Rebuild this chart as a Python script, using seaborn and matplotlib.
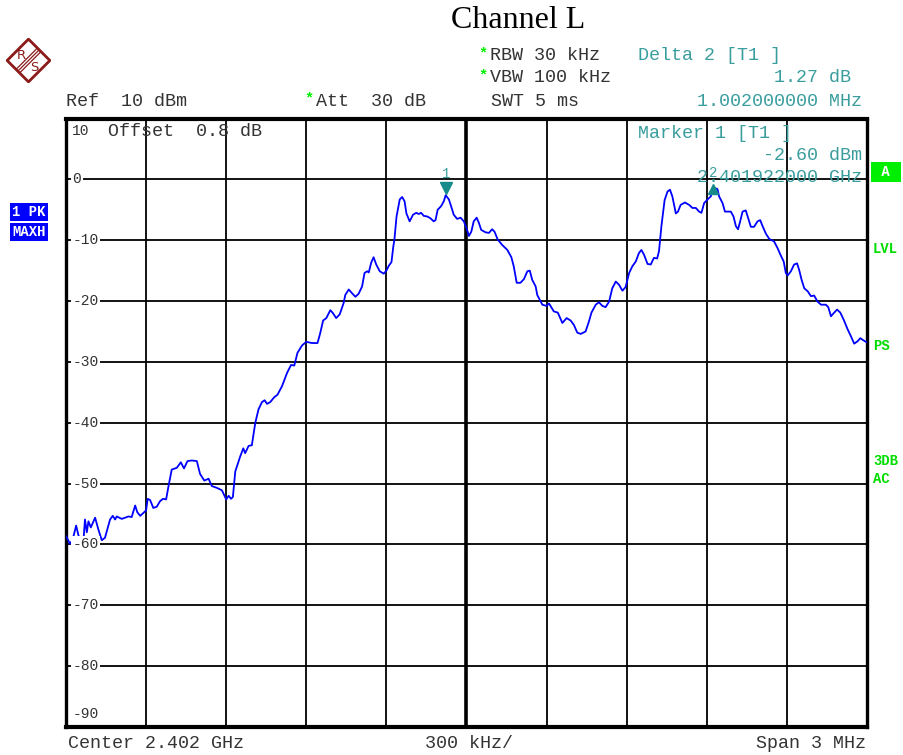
import matplotlib
matplotlib.use("Agg")
import numpy as np
import pandas as pd
import seaborn as sns
import matplotlib.pyplot as plt
from matplotlib.patches import Polygon
from matplotlib.transforms import blended_transform_factory

# trace: frequency offset from centre (kHz) and level (dBm)
freq_khz = [-1500, -1485, -1475, -1462, -1454, -1445, -1435, -1429, -1422, -1416,
            -1407, -1391, -1379, -1366, -1354, -1335, -1325, -1316, -1310, -1291,
            -1266, -1254, -1241, -1233, -1222, -1200, -1194, -1185, -1173, -1160,
            -1148, -1137, -1125, -1116, -1104, -1085, -1070, -1058, -1045, -1029,
            -1010, -998, -982, -966, -954, -935, -916, -900, -891, -882,
            -875, -866, -848, -836, -829, -816, -804, -791, -779, -766,
            -756, -747, -735, -720, -708, -691, -672, -657, -645, -633,
            -616, -600, -579, -558, -548, -537, -525, -510, -500, -488,
            -475, -460, -454, -441, -429, -416, -404, -391, -382, -372,
            -366, -357, -348, -338, -325, -310, -300, -291, -281, -274,
            -270, -262, -250, -241, -232, -225, -213, -200, -188, -179,
            -170, -160, -147, -135, -123, -116, -108, -95, -85, -78,
            -66, -57, -48, -35, -22, -10, 0, 9, 18, 27,
            38, 46, 55, 71, 84, 96, 105, 117, 134, 153,
            168, 177, 188, 202, 215, 228, 237, 246, 259, 265,
            284, 300, 309, 327, 342, 359, 375, 390, 402, 415,
            428, 446, 459, 468, 484, 496, 509, 521, 534, 546,
            559, 571, 584, 596, 609, 621, 634, 646, 655, 665,
            678, 690, 702, 714, 721, 730, 742, 753, 762, 771,
            784, 792, 802, 818, 834, 846, 859, 871, 880, 890,
            903, 915, 924, 940, 946, 959, 968, 980, 990, 1000,
            1009, 1017, 1025, 1034, 1046, 1055, 1065, 1077, 1090, 1100,
            1109, 1121, 1134, 1152, 1165, 1178, 1188, 1196, 1203, 1215,
            1227, 1238, 1246, 1255, 1265, 1278, 1290, 1302, 1315, 1328,
            1346, 1355, 1365, 1375, 1388, 1400, 1413, 1428, 1440, 1452,
            1465, 1475, 1488, 1500]
level_dbm = [-58.6, -59.9, -59.2, -56.9, -58.4, -59.5, -59.7, -55.9, -58.0, -56.2,
             -57.2, -55.6, -57.5, -59.3, -58.9, -55.9, -55.3, -55.9, -55.4, -55.8,
             -55.4, -55.5, -53.6, -54.7, -55.3, -54.4, -52.5, -52.7, -54.0, -53.8,
             -52.9, -52.5, -52.6, -50.4, -47.7, -47.4, -46.5, -47.5, -46.3, -46.2,
             -46.3, -48.4, -49.5, -49.2, -50.4, -50.7, -51.1, -52.6, -52.0, -52.5,
             -52.2, -48.0, -45.6, -44.2, -45.0, -43.8, -43.7, -40.0, -37.8, -36.6,
             -36.3, -36.9, -36.6, -35.8, -35.4, -34.0, -31.8, -30.5, -30.6, -28.5,
             -27.3, -26.7, -26.9, -26.9, -25.3, -23.2, -22.8, -21.5, -22.0, -22.8,
             -22.2, -20.3, -19.0, -18.1, -18.7, -19.3, -18.8, -17.6, -15.4, -15.1,
             -15.3, -13.7, -12.8, -14.0, -15.1, -15.5, -15.0, -14.2, -13.6, -11.0,
             -9.9, -6.1, -3.3, -2.9, -3.6, -5.6, -6.9, -5.8, -5.5, -5.7,
             -5.5, -6.0, -6.1, -6.4, -6.9, -6.7, -5.0, -4.4, -3.6, -2.6,
             -3.3, -4.5, -5.8, -6.5, -6.3, -6.9, -8.0, -9.3, -8.6, -6.9,
             -6.3, -7.1, -8.3, -8.7, -8.8, -8.2, -8.6, -9.9, -10.8, -11.6,
             -12.8, -14.3, -17.0, -17.0, -16.4, -15.1, -15.0, -16.5, -17.6, -19.0,
             -20.6, -20.8, -20.4, -21.7, -21.9, -23.6, -22.8, -23.2, -23.9, -25.2,
             -25.4, -25.0, -23.3, -21.9, -20.6, -20.2, -20.8, -21.0, -20.1, -17.9,
             -16.8, -17.3, -18.3, -17.7, -15.4, -14.3, -13.5, -12.1, -11.6, -12.4,
             -13.9, -14.0, -12.9, -13.0, -11.8, -7.7, -3.4, -2.0, -1.7, -2.8,
             -5.6, -5.3, -4.2, -3.8, -4.2, -4.7, -4.7, -5.3, -5.5, -3.9,
             -3.3, -2.8, -1.33, -1.6, -2.8, -3.9, -5.3, -5.3, -5.3, -6.1,
             -7.7, -8.2, -6.9, -5.3, -5.1, -6.4, -7.8, -7.8, -6.9, -6.7,
             -7.7, -8.9, -9.8, -10.2, -11.3, -12.6, -13.5, -15.4, -15.8, -15.1,
             -14.0, -13.8, -14.9, -16.5, -17.9, -18.4, -19.2, -19.1, -20.1, -20.6,
             -20.6, -21.0, -22.5, -22.0, -21.4, -21.9, -23.1, -24.7, -25.8, -27.0,
             -26.6, -26.1, -26.5, -26.8]

marker_freq = [-78, 924]
marker_level = [-2.60, -1.33]
marker_names = ["1", "2"]

x_ticks = list(range(-1500, 1501, 300))
y_ticks = list(range(-90, 11, 10))
y_labels = ["0", "-10", "-20", "-30", "-40", "-50", "-60", "-70", "-80"]
y_label_pos = [0, -10, -20, -30, -40, -50, -60, -70, -80]

df = pd.DataFrame({"freq": freq_khz, "level": level_dbm})

W, H = 904, 755
MONO = "Liberation Mono"
TEAL = "#3a9d9d"
GREY = "#333333"
GREEN = "#00ee00"

sns.set_style("white")
fig = plt.figure(figsize=(W / 100, H / 100), dpi=100)


def fx(x):
    return x / W


def fy(y):
    return 1 - y / H


ax = fig.add_axes([fx(66), fy(727), 801 / W, 608.5 / H])
sns.lineplot(data=df, x="freq", y="level", ax=ax, color="#0000ff", lw=1.3,
             estimator=None, sort=False, zorder=4)
ax.set_xlim(-1500, 1500)
ax.set_ylim(-90, 10)
ax.set_xticks(x_ticks)
ax.set_yticks(y_ticks)
ax.tick_params(length=0, labelbottom=False, labelleft=False)
ax.set_xlabel("")
ax.set_ylabel("")
ax.grid(True, color="black", lw=1.3)
ax.axvline(0, color="black", lw=2.6, zorder=2)
for s in ax.spines.values():
    s.set_color("black")
    s.set_linewidth(2.4)
ax.spines["top"].set_linewidth(3)
ax.spines["bottom"].set_linewidth(3)

# y labels sitting on the grid lines
tr = blended_transform_factory(ax.transAxes, ax.transData)
for lab, pos in zip(y_labels, y_label_pos):
    ax.text(0.008, pos, lab, transform=tr, ha="left", va="center", family=MONO,
            fontsize=10.5, color=GREY, zorder=5,
            bbox=dict(boxstyle="square,pad=0.1", fc="white", ec="none"))
ax.text(0.008, 7.9, "10", transform=tr, ha="left", va="center", family=MONO,
        fontsize=10.5, color=GREY, zorder=5)
ax.text(0.008, -87.9, "-90", transform=tr, ha="left", va="center", family=MONO,
        fontsize=10.5, color=GREY, zorder=5)

# markers
ax.plot(marker_freq[0], marker_level[0] + 1.2, marker="v", color="#178a8a",
        ms=8, zorder=6, ls="none")
ax.plot(marker_freq[1], marker_level[1] - 0.3, marker="^", color="#178a8a",
        ms=7, zorder=6, ls="none")
ax.text(marker_freq[0], marker_level[0] + 3.4, marker_names[0], ha="center",
        va="center", family=MONO, fontsize=10, color=TEAL, zorder=6)
ax.text(marker_freq[1], marker_level[1] + 2.4, marker_names[1], ha="center",
        va="center", family=MONO, fontsize=10, color=TEAL, zorder=6)

fs = 13.2
fig.text(fx(518), fy(20), "Channel L", family="Liberation Serif", fontsize=23,
         ha="center", va="center", color="black")
fig.text(fx(66), fy(101), "Ref  10 dBm", family=MONO, fontsize=fs, color=GREY,
         va="center")
fig.text(fx(316), fy(101), "Att  30 dB", family=MONO, fontsize=fs, color=GREY,
         va="center")
fig.text(fx(490), fy(56), "RBW 30 kHz", family=MONO, fontsize=fs, color=GREY,
         va="center")
fig.text(fx(490), fy(78), "VBW 100 kHz", family=MONO, fontsize=fs, color=GREY,
         va="center")
fig.text(fx(491), fy(101), "SWT 5 ms", family=MONO, fontsize=fs, color=GREY,
         va="center")
for sx, sy in [(483, 53), (483, 75), (309, 98)]:
    fig.text(fx(sx), fy(sy), "*", family=MONO, fontsize=11, color=GREEN,
             ha="center", va="center", weight="bold")
fig.text(fx(638), fy(56), "Delta 2 [T1 ]", family=MONO, fontsize=fs, color=TEAL,
         va="center")
fig.text(fx(851), fy(78), "1.27 dB", family=MONO, fontsize=fs, color=TEAL,
         va="center", ha="right")
fig.text(fx(862), fy(101), "1.002000000 MHz", family=MONO, fontsize=fs,
         color=TEAL, va="center", ha="right")
fig.text(fx(638), fy(133), "Marker 1 [T1 ]", family=MONO, fontsize=fs,
         color=TEAL, va="center")
fig.text(fx(862), fy(155), "-2.60 dBm", family=MONO, fontsize=fs, color=TEAL,
         va="center", ha="right")
fig.text(fx(862), fy(178), "2.401922000 GHz", family=MONO, fontsize=fs,
         color=TEAL, va="center", ha="right")
fig.text(fx(108), fy(131), "Offset  0.8 dB", family=MONO, fontsize=fs,
         color=GREY, va="center")

fig.text(fx(68), fy(744), "Center 2.402 GHz", family=MONO, fontsize=fs,
         color=GREY, va="center")
fig.text(fx(469), fy(744), "300 kHz/", family=MONO, fontsize=fs, color=GREY,
         va="center", ha="center")
fig.text(fx(866), fy(744), "Span 3 MHz", family=MONO, fontsize=fs, color=GREY,
         va="center", ha="right")

# side annotations
box = dict(boxstyle="square,pad=0.15", fc="#0000ff", ec="none")
fig.text(fx(29), fy(212), "1 PK", family=MONO, fontsize=10, color="white",
         weight="bold", ha="center", va="center", bbox=box)
fig.text(fx(29), fy(232), "MAXH", family=MONO, fontsize=10, color="white",
         weight="bold", ha="center", va="center", bbox=box)
fig.text(fx(886), fy(172), " A ", family=MONO, fontsize=10, color="white",
         weight="bold", ha="center", va="center",
         bbox=dict(boxstyle="square,pad=0.2", fc="#00ee00", ec="none"))
for txt, yy in [("LVL", 249), ("PS", 346), ("3DB", 461), ("AC", 479)]:
    fig.text(fx(873), fy(yy), txt, family=MONO, fontsize=10, color="#00dd00",
             weight="bold", va="center")

# R&S logo
lax = fig.add_axes([fx(6), fy(83), 45 / W, 45 / H])
lax.set_xlim(-1, 1)
lax.set_ylim(-1, 1)
lax.axis("off")
red = "#8b1a1a"
lax.add_patch(Polygon([[0, 0.95], [0.95, 0], [0, -0.95], [-0.95, 0]],
                      closed=True, fc="white", ec=red, lw=2))
for off in [-0.08, 0, 0.08]:
    lax.plot([-0.47 + off, 0.47 + off], [-0.47 - off, 0.47 - off], color=red, lw=0.9)
lax.text(-0.3, 0.22, "R", color=red, fontsize=9.5, ha="center", va="center",
         family="DejaVu Sans")
lax.text(0.28, -0.3, "S", color=red, fontsize=9.5, ha="center", va="center",
         family="DejaVu Sans")

fig.savefig("out.png", dpi=100)
